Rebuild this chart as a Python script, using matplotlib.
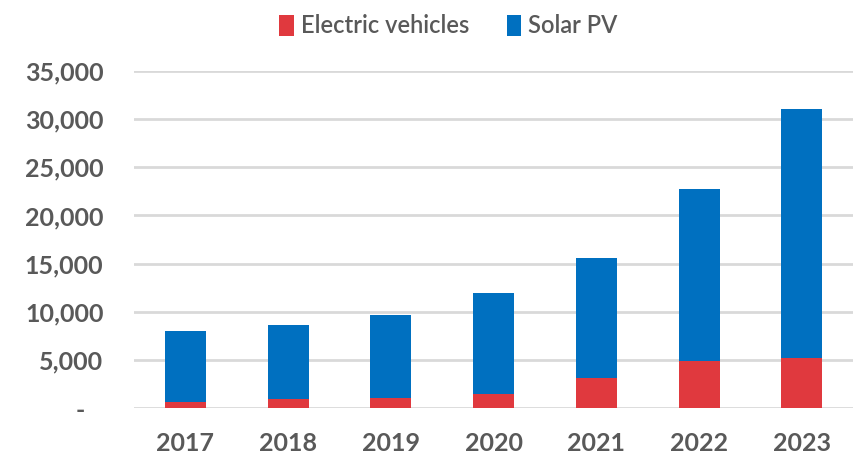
import matplotlib.pyplot as plt
from matplotlib.ticker import FuncFormatter
import numpy as np

plt.rcParams['font.family'] = ['Lato', 'DejaVu Sans']

years = ['2017', '2018', '2019', '2020', '2021', '2022', '2023']
ev = [620, 930, 1070, 1450, 3140, 4940, 5190]
solar = [7380, 7670, 8630, 10450, 12460, 17810, 25910]

red = '#E0393E'
blue = '#0070C0'
grey = '#595959'

fig = plt.figure(figsize=(8.54, 4.58), dpi=100)
ax = fig.add_axes([0.157, 0.109, 0.842, 0.736])

x = np.arange(len(years))
ax.bar(x, ev, width=0.4, color=red, label='Electric vehicles', zorder=3)
ax.bar(x, solar, width=0.4, bottom=ev, color=blue, label='Solar PV', zorder=3)

ax.set_xlim(-0.5, len(years) - 0.5)
ax.set_ylim(0, 35000)
ax.set_yticks(range(0, 35001, 5000))
ax.yaxis.set_major_formatter(FuncFormatter(lambda v, p: '-   ' if v == 0 else f'{int(v):,}'))
ax.set_xticks(x)
ax.set_xticklabels(years)

ax.grid(axis='y', color='#D9D9D9', linewidth=2, zorder=0)
for s in ax.spines.values():
    s.set_visible(False)
ax.tick_params(length=0, labelsize=18, labelcolor=grey)
ax.tick_params(axis='y', pad=22)
ax.tick_params(axis='x', pad=17)
for t in ax.get_xticklabels() + ax.get_yticklabels():
    t.set_fontweight('bold')

leg = fig.legend(loc='upper center', bbox_to_anchor=(0.525, 1.015), ncol=2, frameon=False,
                 fontsize=17, handlelength=0.6, handleheight=1.0, handletextpad=0.3,
                 columnspacing=1.6)
for t in leg.get_texts():
    t.set_color(grey)
    t.set_fontweight('semibold')

fig.savefig('out.png', dpi=100)
